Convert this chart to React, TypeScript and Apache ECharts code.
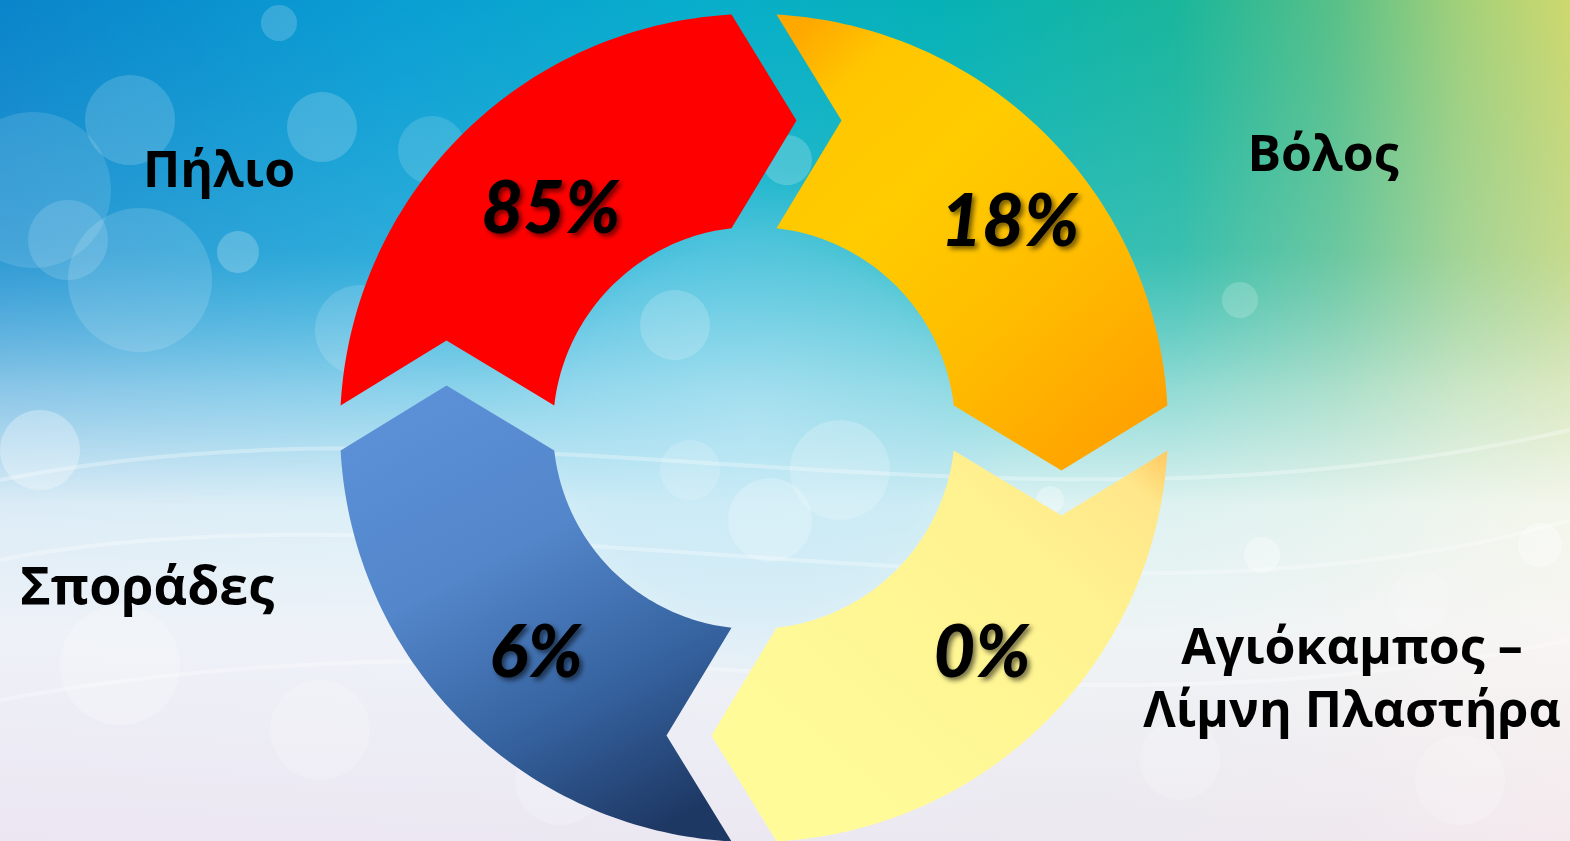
import React, { useEffect, useRef } from "react";
import * as echarts from "echarts";

// ---- data ----
const CATEGORIES = ["Πήλιο", "Βόλος", "Αγιόκαμπος –\nΛίμνη Πλαστήρα", "Σποράδες"];
const VALUES = [85, 18, 0, 6];

// ---- layout (page pixels) ----
const W = 1570;
const H = 841;
const CX = 754;
const CY = 428;
const R_OUT = 414;
const R_IN = 201;
const GAP = 22.5;
const TIP = 65;
const PCT_OFFSETS = [
  [-203, -223],
  [256, -210],
  [228, 221],
  [-218, 221],
];
const CAT_POS = [
  [219, 168],
  [1323, 152],
  [1352, 676],
  [147, 583],
];
const CAT_SIZE = [50, 50, 50, 52];

const lin = (x0: number, y0: number, x1: number, y1: number, stops: [number, string][]) =>
  new echarts.graphic.LinearGradient(
    x0,
    y0,
    x1,
    y1,
    stops.map(([offset, color]) => ({ offset, color }))
  );

const FILLS = [
  "#FF0000",
  lin(0.1, 0, 0.9, 1, [
    [0, "#FFA800"],
    [0.13, "#FFC600"],
    [0.35, "#FFCC00"],
    [0.65, "#FFBC00"],
    [1, "#FF9E00"],
  ]),
  lin(1, 0, 0.2, 0.8, [
    [0, "#FFC860"],
    [0.1, "#FFE68A"],
    [0.35, "#FFF290"],
    [1, "#FFFB99"],
  ]),
  lin(0.3, 0, 0.75, 1, [
    [0, "#5B90D7"],
    [0.35, "#5386CA"],
    [0.7, "#35629F"],
    [1, "#1E3864"],
  ]),
];

function rot(p: number[], k: number) {
  let [x, y] = p;
  for (let i = 0; i < k; i++) {
    const nx = -y;
    const ny = x;
    x = nx;
    y = ny;
  }
  return [x, y];
}

function arrowPoints(k: number) {
  const g = GAP;
  const t = TIP;
  const R = R_OUT;
  const r = R_IN;
  const m = (R + r) / 2;
  const N = 80;
  const pts: number[][] = [];
  const a0 = Math.atan2(-g, -Math.sqrt(R * R - g * g));
  const a1 = Math.atan2(-Math.sqrt(R * R - g * g), -g);
  for (let i = 0; i <= N; i++) {
    const a = a0 + ((a1 - a0) * i) / N;
    pts.push([R * Math.cos(a), R * Math.sin(a)]);
  }
  pts.push([-g + t, -m]);
  const b0 = Math.atan2(-g, -Math.sqrt(r * r - g * g));
  const b1 = Math.atan2(-Math.sqrt(r * r - g * g), -g);
  for (let i = 0; i <= N; i++) {
    const a = b1 + ((b0 - b1) * i) / N;
    pts.push([r * Math.cos(a), r * Math.sin(a)]);
  }
  pts.push([-m, -g - t]);
  return pts.map((p) => {
    const q = rot(p, k);
    return [CX + q[0], CY + q[1]];
  });
}

const BOKEH: number[][] = [
  [130, 120, 45, 0.16],
  [322, 127, 35, 0.18],
  [279, 23, 18, 0.18],
  [33, 190, 78, 0.12],
  [68, 240, 40, 0.14],
  [238, 252, 21, 0.22],
  [140, 280, 72, 0.14],
  [432, 150, 34, 0.14],
  [360, 330, 45, 0.14],
  [787, 160, 25, 0.2],
  [675, 325, 35, 0.18],
  [840, 470, 50, 0.2],
  [770, 520, 42, 0.22],
  [690, 470, 30, 0.16],
  [1050, 500, 14, 0.3],
  [1240, 300, 18, 0.18],
  [1262, 555, 18, 0.35],
  [1540, 545, 22, 0.35],
  [1420, 600, 30, 0.16],
  [40, 450, 40, 0.3],
  [120, 665, 60, 0.22],
  [320, 730, 50, 0.18],
  [560, 780, 45, 0.18],
  [1180, 760, 40, 0.18],
  [1460, 780, 45, 0.18],
];

export default function App() {
  const ref = useRef<HTMLDivElement>(null);
  useEffect(() => {
    if (!ref.current) return;
    const chart = echarts.init(ref.current, undefined, { renderer: "svg" });

    const bg: any[] = [
      {
        type: "rect",
        silent: true,
        shape: { x: 0, y: 0, width: W, height: H },
        style: {
          fill: lin(0, 0, 1, 0, [
            [0, "#0A84CA"],
            [0.25, "#0A9ED3"],
            [0.45, "#08AECB"],
            [0.6, "#06B2B6"],
            [0.75, "#1AB69C"],
            [0.85, "#58C088"],
            [0.93, "#A2D07A"],
            [1, "#CED86E"],
          ]),
        },
      },
      {
        type: "rect",
        silent: true,
        shape: { x: 0, y: 0, width: W, height: H },
        style: {
          fill: lin(0, 0, 0, 1, [
            [0, "rgba(120,210,240,0)"],
            [0.3, "rgba(170,225,245,0.22)"],
            [0.46, "rgba(230,245,252,0.58)"],
            [0.6, "rgba(248,250,252,0.88)"],
            [0.75, "rgba(250,247,250,0.95)"],
            [1, "rgba(245,234,243,0.96)"],
          ]),
        },
      },
      {
        type: "circle",
        silent: true,
        shape: { cx: CX, cy: CY, r: 260 },
        style: {
          fill: new echarts.graphic.RadialGradient(0.5, 0.5, 0.5, [
            { offset: 0, color: "rgba(190,230,248,0.5)" },
            { offset: 0.7, color: "rgba(170,222,245,0.3)" },
            { offset: 1, color: "rgba(160,220,245,0)" },
          ]),
        },
      },
      ...[
        [0, 480, 500, 380, 1000, 560, 1570, 430],
        [0, 560, 450, 470, 1100, 660, 1570, 520],
        [0, 700, 600, 590, 1000, 760, 1570, 640],
      ].map((c) => ({
        type: "bezierCurve",
        silent: true,
        shape: { x1: c[0], y1: c[1], cpx1: c[2], cpy1: c[3], cpx2: c[4], cpy2: c[5], x2: c[6], y2: c[7] },
        style: { stroke: "rgba(255,255,255,0.3)", lineWidth: 4, fill: "none" },
      })),
      ...BOKEH.map((b) => ({
        type: "circle",
        silent: true,
        shape: { cx: b[0], cy: b[1], r: b[2] },
        style: { fill: `rgba(255,255,255,${b[3]})` },
      })),
      ...CATEGORIES.map((name, i) => ({
        type: "text",
        silent: true,
        x: CAT_POS[i][0],
        y: CAT_POS[i][1],
        style: {
          text: name,
          fill: "#000",
          font: `bold ${CAT_SIZE[i]}px 'Open Sans', sans-serif`,
          lineHeight: 63,
          align: "center",
          verticalAlign: "middle",
          textAlign: "center",
          textVerticalAlign: "middle",
        },
      })),
    ];

    chart.setOption({
      animation: false,
      graphic: { elements: bg },
      series: [
        {
          type: "custom",
          coordinateSystem: "none",
          z: 10,
          silent: true,
          data: VALUES.map((v, i) => ({ name: CATEGORIES[i], value: [i, v] })),
          renderItem: (params: any, api: any) => {
            const k = params.dataIndex;
            const off = PCT_OFFSETS[k];
            return {
              type: "group",
              children: [
                {
                  type: "polygon",
                  shape: { points: arrowPoints(k) },
                  style: { fill: FILLS[k] },
                },
                {
                  type: "text",
                  x: CX + off[0],
                  y: CY + off[1],
                  style: {
                    text: `${api.value(1)}%`,
                    fill: "#000",
                    font: "italic 900 72px Lato, 'Open Sans', sans-serif",
                    align: "center",
                    verticalAlign: "middle",
                    textAlign: "center",
                    textVerticalAlign: "middle",
                    textShadowColor: "rgba(0,0,0,0.55)",
                    textShadowBlur: 5,
                    textShadowOffsetX: 3,
                    textShadowOffsetY: 3,
                  },
                },
              ],
            };
          },
        },
      ],
    });
    return () => chart.dispose();
  }, []);
  return (
    <div
      ref={ref}
      style={{ position: "fixed", left: 0, top: 0, width: W, height: H }}
    />
  );
}
